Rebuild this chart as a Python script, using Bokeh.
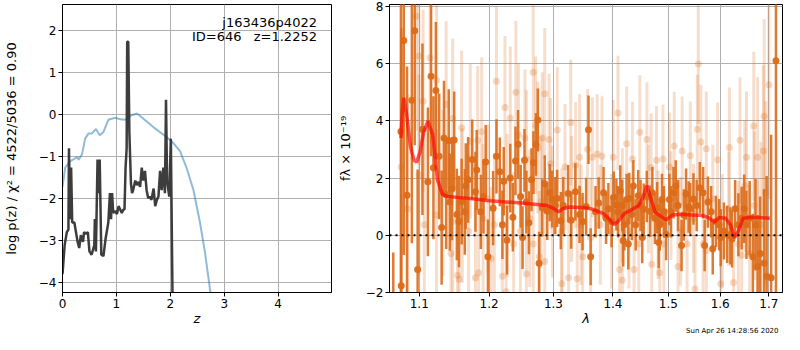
from bokeh.plotting import figure
from bokeh.layouts import row
from bokeh.models import Range1d, FixedTicker, Label, Span, ColumnDataSource, PrintfTickFormatter, Title
from bokeh.embed import file_html
from bokeh.resources import INLINE

# ---------------- left panel data: log p(z) ----------------
pz_z = [0.00, 0.04, 0.08, 0.11, 0.12, 0.14, 0.16, 0.18, 0.22, 0.25, 0.28, 0.31, 0.34, 0.38, 0.40,
        0.44, 0.47, 0.50, 0.54, 0.59, 0.60, 0.62, 0.65, 0.67, 0.69, 0.72, 0.76, 0.80, 0.82, 0.85,
        0.88, 0.90, 0.92, 0.94, 0.98, 1.01, 1.04, 1.07, 1.10, 1.13, 1.15, 1.17, 1.19, 1.20, 1.22,
        1.24, 1.27, 1.29, 1.31, 1.35, 1.38, 1.41, 1.44, 1.47, 1.50, 1.53, 1.56, 1.59, 1.62, 1.65,
        1.69, 1.72, 1.75, 1.78, 1.81, 1.84, 1.87, 1.90, 1.92, 1.94, 1.98, 2.01, 2.04, 2.06]
pz_logp = [-3.81, -3.12, -2.81, -2.75, -0.81, -2.50, -1.27, -2.58, -2.58, -2.81, -3.04, -3.19, -2.88, -3.04, -2.81,
           -2.85, -2.81, -3.27, -3.35, -3.12, -2.50, -3.27, -1.08, -1.88, -1.08, -3.35, -3.38, -2.96, -2.81, -2.58,
           -1.88, -2.50, -1.88, -2.35, -2.31, -2.38, -2.19, -2.27, -2.35, -2.27, -2.27, -1.27, -0.81, 1.73, 1.73,
           -0.42, -1.65, -1.88, -1.81, -1.58, -1.69, -1.61, -1.73, -1.27, -1.58, -1.35, -1.81, -2.00, -1.96, -2.04,
           -1.77, -2.19, -2.04, -1.96, -1.35, -1.81, -1.27, -1.88, 0.35, -1.58, -1.96, -0.58, -4.27, -6.50]

prior_z = [0.00, 0.05, 0.14, 0.27, 0.30, 0.36, 0.42, 0.48, 0.54, 0.62, 0.69, 0.76, 0.85, 0.98, 1.07,
           1.16, 1.28, 1.38, 1.44, 1.69, 1.93, 2.06, 2.18, 2.30, 2.43, 2.55, 2.64, 2.75]
prior_logp = [-1.73, -1.27, -1.12, -1.02, -1.08, -0.96, -0.58, -0.46, -0.46, -0.35, -0.50, -0.42, -0.13, -0.08, -0.12,
              -0.13, -0.02, 0.02, -0.04, -0.31, -0.54, -0.69, -0.88, -1.27, -1.81, -2.58, -3.27, -4.30]

pz_ticks_x = [0, 1, 2, 3, 4]
pz_ticks_y = [-4, -3, -2, -1, 0, 1, 2]

# ---------------- right panel data: spectrum ----------------
dark_lam = [1.065, 1.0752, 1.0756, 1.079, 1.0834, 1.0899, 1.0938, 1.0978, 1.1044, 1.1119, 1.1163, 1.1196,
            1.123, 1.1276, 1.1311, 1.1344, 1.1376, 1.1412, 1.1426, 1.1458, 1.1489, 1.1527, 1.1558, 1.1596,
            1.1642, 1.1656, 1.169, 1.175, 1.1797, 1.1816, 1.1877, 1.1916, 1.1949, 1.1982, 1.206, 1.211,
            1.216, 1.220, 1.222, 1.227, 1.232, 1.236, 1.240, 1.244, 1.248, 1.251, 1.254, 1.257,
            1.261, 1.265, 1.268, 1.272, 1.275, 1.277, 1.282, 1.286, 1.290, 1.294, 1.298, 1.303,
            1.306, 1.312, 1.316, 1.324, 1.329, 1.336, 1.343, 1.348, 1.354, 1.358, 1.3617, 1.370,
            1.3753, 1.3837, 1.388, 1.392, 1.3976, 1.4014, 1.406, 1.4088, 1.4128, 1.4162, 1.418, 1.420,
            1.424, 1.427, 1.4286, 1.4333, 1.436, 1.4402, 1.4447, 1.4489, 1.452, 1.4546, 1.4604, 1.4663,
            1.4704, 1.4751, 1.4793, 1.482, 1.484, 1.4881, 1.4917, 1.4958, 1.5019, 1.5048, 1.5096, 1.5138,
            1.5182, 1.5248, 1.5291, 1.5334, 1.5383, 1.5413, 1.5476, 1.5538, 1.5599, 1.5663, 1.5693, 1.5757,
            1.582, 1.5852, 1.5915, 1.5978, 1.601, 1.6074, 1.614, 1.6203, 1.6237, 1.630, 1.6366, 1.6433,
            1.6484, 1.6531, 1.6597, 1.6663, 1.6717, 1.6763, 1.6817, 1.6898, 1.6952, 1.7047, 1.715]
dark_flux = [-2.80, 3.63, -1.76, 6.81, 1.40, 4.72, 7.15, -1.20, 3.71, 1.87, 5.56, 2.36,
             5.06, 2.76, 0.27, 3.40, 1.42, 3.31, 1.16, 1.63, 3.33, 0.73, 0.48, 1.18,
             0.82, 1.72, 1.94, 2.65, 1.52, 2.28, 0.82, 1.36, 2.56, -0.75, 0.95, 2.76,
             2.22, 0.37, 1.89, -0.17, 2.00, 0.63, 2.60, 3.18, 1.36, -0.08, 2.62, 1.16,
             0.44, 1.94, 2.54, 3.18, 4.03, -0.98, 0.96, 1.80, 0.84, 1.49, 1.27, 1.04,
             1.29, 0.51, 1.04, 1.46, 0.53, 1.52, 0.73, 0.48, 1.01, 3.69, -0.75, 0.82,
             1.13, 1.49, 0.60, 0.93, 0.48, 1.33, 1.07, 0.82, 1.55, 1.04, -0.19, 0.37,
             1.25, -0.30, 1.29, 0.73, 1.72, 0.37, 1.38, 1.04, -0.08, 0.91, 1.36, 0.84,
             1.49, 0.60, 0.96, -0.25, 0.37, 1.25, 0.82, 0.03, 1.25, 0.82, 1.49, 1.72,
             1.04, -0.36, 0.71, 1.44, 0.99, 0.93, 1.27, 1.04, 1.66, 1.49, -0.36, 1.16,
             0.82, -0.47, 0.48, 0.37, -0.08, 0.15, 0.03, -0.02, -0.13, 0.93, 0.37, 0.60,
             0.93, 0.37, 0.60, -0.75, 0.37, -1.09, -0.64, -0.98, -1.43, -1.48, 6.10]
dark_err = [2.2, 9.0, 9.0, 7.5, 4.5, 5.0, 4.0, 3.5, 3.0, 2.6, 2.8, 2.5,
            2.4, 2.2, 2.0, 2.0, 1.9, 1.8, 1.7, 1.8, 1.7, 1.6, 1.6, 1.5,
            1.5, 1.5, 1.5, 1.4, 1.4, 1.4, 1.3, 1.3, 1.3, 1.3, 1.3, 1.3,
            1.2, 1.2, 1.2, 1.2, 1.2, 1.2, 1.2, 1.2, 1.1, 1.1, 1.1, 1.1,
            1.1, 1.1, 1.1, 1.1, 1.1, 1.1, 1.0, 1.0, 1.0, 1.0, 1.0, 1.0,
            1.0, 1.0, 1.0, 1.0, 1.0, 1.0, 1.0, 1.0, 1.0, 1.2, 1.0, 0.9,
            0.9, 0.9, 0.9, 0.9, 0.9, 0.9, 0.9, 0.9, 0.9, 0.9, 0.9, 0.9,
            0.9, 0.9, 0.9, 0.9, 0.9, 0.9, 0.9, 0.9, 0.9, 0.9, 0.9, 0.9,
            0.9, 0.9, 0.9, 0.9, 0.9, 0.9, 0.9, 0.9, 0.9, 0.9, 0.9, 0.9,
            0.9, 0.9, 0.9, 0.9, 0.9, 0.9, 0.9, 0.9, 0.9, 0.9, 0.9, 0.9,
            0.9, 0.9, 0.9, 0.9, 1.0, 1.0, 1.0, 1.0, 1.0, 1.0, 1.1, 1.1,
            1.2, 1.2, 1.3, 1.5, 1.6, 1.8, 2.0, 2.6, 3.5, 5.0, 9.0]

light_lam = [1.0961, 1.0996, 1.1053, 1.1150, 1.1240, 1.1375, 1.1467, 1.1596, 1.1722, 1.1831, 1.1889, 1.2110,
             1.2239, 1.2320, 1.2406, 1.2446, 1.2547, 1.2570, 1.2677, 1.2714, 1.2750, 1.2820, 1.2860, 1.2929,
             1.2955, 1.3063, 1.3188, 1.3283, 1.3364, 1.3430, 1.3564, 1.3646, 1.3728, 1.3810, 1.4004, 1.4088,
             1.4241, 1.4343, 1.4476, 1.4604, 1.4680, 1.4780, 1.4900, 1.5020, 1.5110, 1.5260, 1.5415, 1.5551,
             1.5570, 1.5619, 1.5726, 1.5948, 1.6184, 1.6399, 1.6532, 1.6683, 1.6763, 1.6884, 1.6900, 1.7000,
             1.1444, 1.1537, 1.1560, 1.1797, 1.1844, 1.2030, 1.2199, 1.2257, 1.2570, 1.2774, 1.2860, 1.3136,
             1.3248, 1.3391, 1.3483, 1.4116, 1.4165, 1.4373, 1.4692, 1.4840, 1.5181, 1.5506, 1.5726, 1.6010,
             1.6268, 1.6433, 1.6597, 1.6763,
             1.0756, 1.0843, 1.0996, 1.1070, 1.1239, 1.1329, 1.1467, 1.1605, 1.1697, 1.1910, 1.1982, 1.2078,
             1.2273, 1.2372, 1.2476, 1.2622, 1.2677, 1.2800, 1.2984, 1.3136, 1.3297, 1.3455, 1.3617, 1.3782,
             1.3975, 1.4165, 1.4282, 1.4458, 1.4633, 1.4810, 1.4917, 1.5048, 1.5230, 1.5353, 1.5476, 1.5663,
             1.5852, 1.6043, 1.6170, 1.6366, 1.6498, 1.6697, 1.6831, 1.6932]
light_flux = [7.66, 6.27, 4.69, 6.21, 5.42, 4.58, 4.08, 3.75, 3.29, 3.32, 3.62, 5.39,
              4.47, 4.10, 5.00, 3.52, 3.40, 2.67, 5.70, 3.85, 3.07, 3.40, 4.95, 3.35,
              2.50, 3.68, 2.39, 3.94, 2.45, 2.73, 3.01, 2.73, 2.84, 2.76, 2.73, 4.28,
              3.20, 2.67, 3.60, 3.35, 2.37, 2.62, 2.67, 2.39, 3.12, 2.95, 2.78, 3.71,
              5.99, 3.26, 3.03, 2.64, 3.07, 3.32, 2.73, 3.82, 2.73, 2.95, 4.16, 5.26,
              -0.64, -1.40, -1.54, -1.48, -1.31, -0.81, -1.43, -1.97, -1.35, -0.75, -0.92, -1.69,
              -1.48, -1.52, -0.75, -1.20, -1.57, -1.20, -1.01, -1.31, -1.09, -1.88, -0.53, -1.69,
              -1.65, -0.70, -0.64, -0.87,
              2.39, 0.93, 2.11, 0.37, 0.71, 1.49, 0.48, 1.04, 0.14, 0.59, 1.27, 0.37,
              1.04, -0.30, 0.14, 0.59, -0.30, 1.16, 0.82, 0.14, 1.27, 0.37, -0.08, 0.37,
              0.14, 1.04, 0.14, -0.30, 1.27, 0.37, -0.30, 1.04, 0.14, -0.30, 0.59, -0.30,
              1.27, 0.14, 0.93, -0.30, 1.72, 1.04, 0.37, 1.49]
light_err = [4.0, 3.8, 3.2, 3.0, 3.0, 2.9, 2.8, 2.7, 2.7, 2.6, 2.6, 2.6,
             2.5, 2.5, 2.5, 2.5, 2.4, 2.4, 2.4, 2.4, 2.3, 2.3, 2.3, 2.3,
             2.3, 2.2, 2.2, 2.2, 2.2, 2.2, 2.1, 2.1, 2.1, 2.1, 2.0, 2.0,
             2.0, 2.0, 2.0, 2.0, 1.9, 1.9, 1.9, 1.9, 1.9, 1.9, 1.9, 1.9,
             2.1, 2.0, 2.0, 2.0, 2.1, 2.2, 2.3, 2.6, 2.8, 3.0, 3.4, 4.0,
             2.8, 2.7, 2.7, 2.6, 2.6, 2.5, 2.5, 2.5, 2.4, 2.3, 2.3, 2.2,
             2.2, 2.2, 2.1, 2.0, 2.0, 2.0, 1.9, 1.9, 1.9, 1.9, 1.9, 2.0,
             2.1, 2.3, 2.4, 2.8,
             4.5, 4.0, 3.5, 3.2, 3.0, 2.9, 2.8, 2.7, 2.7, 2.6, 2.6, 2.5,
             2.5, 2.5, 2.4, 2.4, 2.4, 2.3, 2.3, 2.2, 2.2, 2.1, 2.1, 2.1,
             2.0, 2.0, 2.0, 2.0, 1.9, 1.9, 1.9, 1.9, 1.9, 1.9, 1.9, 1.9,
             1.9, 2.0, 2.0, 2.2, 2.3, 2.6, 2.9, 3.2]

model_lam = [1.0752, 1.0770, 1.0790, 1.0830, 1.0880, 1.0930, 1.0964, 1.1010, 1.1060, 1.1119, 1.1186, 1.1253,
             1.1321, 1.1389, 1.1666, 1.2006, 1.2496, 1.2899, 1.3007, 1.3085, 1.3153, 1.3268, 1.3536, 1.3617,
             1.3837, 1.3948, 1.4014, 1.4088, 1.4200, 1.4316, 1.4458, 1.4534, 1.4604, 1.4680, 1.4751, 1.4840,
             1.4958, 1.5079, 1.5230, 1.5445, 1.5663, 1.5787, 1.5883, 1.5978, 1.6107, 1.6203, 1.6288, 1.6366,
             1.6464, 1.6632, 1.7020]
model_flux = [3.40, 4.30, 4.81, 4.20, 3.10, 2.62, 2.56, 2.90, 3.60, 3.99, 3.52, 1.94,
              1.44, 1.36, 1.30, 1.21, 1.13, 1.04, 0.93, 0.82, 0.93, 0.99, 0.96, 0.93,
              0.76, 0.54, 0.37, 0.48, 0.76, 0.88, 1.04, 1.33, 1.74, 1.27, 0.82, 0.69,
              0.54, 0.71, 0.74, 0.71, 0.69, 0.60, 0.46, 0.62, 0.60, 0.37, -0.08, 0.15,
              0.60, 0.63, 0.60]

spec_ticks_x = [1.1, 1.2, 1.3, 1.4, 1.5, 1.6, 1.7]
spec_ticks_y = [-2, 0, 2, 4, 6, 8]

FONT = "DejaVu Sans"
ORANGE = "#dc6b19"
BOTTOM = 42


def minus(v):
    return ("\u2212" + str(abs(v))) if v < 0 else str(v)


def style(p, xticks, yticks):
    p.outline_line_color = "black"
    p.outline_line_width = 1
    p.background_fill_color = "white"
    p.border_fill_color = "white"
    for ax in (p.xaxis[0], p.yaxis[0]):
        ax.axis_line_color = "black"
        ax.major_tick_line_color = "black"
        ax.major_tick_out = 4
        ax.major_tick_in = 0
        ax.minor_tick_line_color = None
        ax.major_label_text_font = FONT
        ax.major_label_text_font_size = "12px"
        ax.major_label_text_color = "black"
        ax.major_label_standoff = 2
        ax.axis_label_text_font = FONT
        ax.axis_label_text_font_size = "13px"
        ax.axis_label_text_color = "black"
    p.xaxis[0].ticker = FixedTicker(ticks=xticks)
    p.yaxis[0].ticker = FixedTicker(ticks=yticks)
    p.xgrid[0].ticker = FixedTicker(ticks=xticks)
    p.ygrid[0].ticker = FixedTicker(ticks=yticks)
    p.yaxis[0].major_label_overrides = {v: minus(v) for v in yticks}
    for g in (p.xgrid[0], p.ygrid[0]):
        g.grid_line_color = "#b0b0b0"
        g.grid_line_width = 1
        g.grid_line_alpha = 1.0


# ---------------- left figure ----------------
p1 = figure(width=334, height=334, output_backend="svg", toolbar_location=None,
            x_range=Range1d(0, 4.99), y_range=Range1d(-4.25, 2.62),
            min_border_left=60, min_border_right=3, min_border_top=4, min_border_bottom=BOTTOM)
style(p1, pz_ticks_x, pz_ticks_y)
p1.xaxis[0].axis_label = "z"
p1.xaxis[0].axis_label_text_font_style = "italic"
p1.xaxis[0].axis_label_standoff = 0
p1.yaxis[0].axis_label = "log p(z) / \u03c7\u00b2 = 4522/5036 = 0.90"
p1.yaxis[0].axis_label_text_font_style = "normal"
p1.yaxis[0].axis_label_standoff = 17

p1.line(prior_z, prior_logp, line_color="#1f77b4", line_alpha=0.5, line_width=2)
p1.line(pz_z, pz_logp, line_color="#333333", line_width=2.5, line_alpha=0.95)

for txt, xv, yv in [("j163436p4022", 4.72, 2.20), ("ID=646", 3.32, 1.86), ("z=1.2252", 4.72, 1.86)]:
    p1.add_layout(Label(x=xv, y=yv, text=txt, text_align="right", text_baseline="middle",
                        text_font=FONT, text_font_size="13px", text_color="black"))

# ---------------- right figure ----------------
p2 = figure(width=450, height=334, output_backend="svg", toolbar_location=None,
            x_axis_type="log", x_range=Range1d(1.06, 1.729), y_range=Range1d(-2, 8.07),
            min_border_left=55, min_border_right=2, min_border_top=4, min_border_bottom=BOTTOM)
style(p2, spec_ticks_x, spec_ticks_y)
p2.xaxis[0].formatter = PrintfTickFormatter(format="%.1f")
p2.xaxis[0].axis_label = "\u03bb"
p2.xaxis[0].axis_label_text_font_style = "italic"
p2.xaxis[0].axis_label_standoff = 0
p2.yaxis[0].axis_label = "f\u03bb \u00d7 10\u207b\u00b9\u2079"
p2.yaxis[0].axis_label_text_font_style = "normal"
p2.yaxis[0].axis_label_standoff = 10

light = ColumnDataSource(dict(x=light_lam, y=light_flux,
                              lo=[f - e for f, e in zip(light_flux, light_err)],
                              hi=[f + e for f, e in zip(light_flux, light_err)]))
dark = ColumnDataSource(dict(x=dark_lam, y=dark_flux,
                             lo=[f - e for f, e in zip(dark_flux, dark_err)],
                             hi=[f + e for f, e in zip(dark_flux, dark_err)]))

p2.segment(x0="x", y0="lo", x1="x", y1="hi", source=light, line_color=ORANGE, line_alpha=0.22, line_width=3)
p2.scatter("x", "y", source=light, size=7, fill_color=ORANGE, fill_alpha=0.25, line_color=None)
p2.segment(x0="x", y0="lo", x1="x", y1="hi", source=dark, line_color=ORANGE, line_alpha=0.9, line_width=2.5)
p2.scatter("x", "y", source=dark, size=7, fill_color=ORANGE, fill_alpha=0.95, line_color=None)
p2.line(model_lam, model_flux, line_color="red", line_alpha=0.65, line_width=3.5)
p2.add_layout(Span(location=0, dimension="width", line_color="black", line_dash="dotted", line_width=2))

p2.add_layout(Title(text="Sun Apr 26 14:28:56 2020", align="right", text_font=FONT, text_font_size="7px",
                    text_font_style="normal", text_color="black", standoff=-8, offset=4), "below")

layout = row(p1, p2)
open("out.html", "w").write(file_html(layout, INLINE))
